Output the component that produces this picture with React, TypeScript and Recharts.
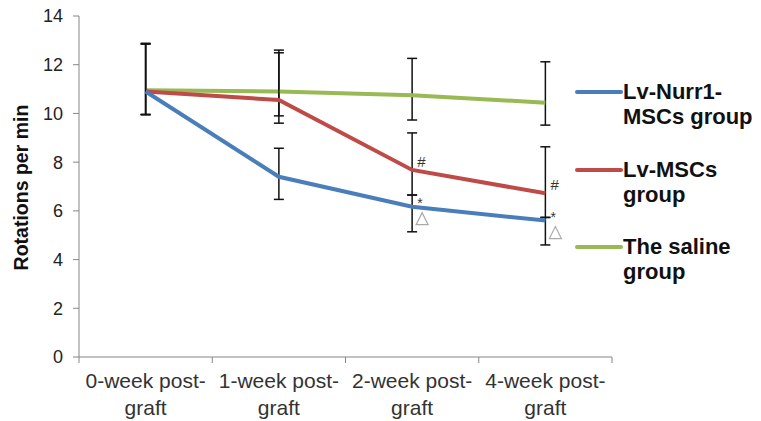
import { ErrorBar, Label, LabelList, Legend, Line, LineChart, XAxis, YAxis } from "recharts";

const categories = ["0-week post-graft", "1-week post-graft", "2-week post-graft", "4-week post-graft"];
const nurr1Values = [10.9, 7.4, 6.17, 5.6];
const nurr1Err: [number, number][] = [[0.95, 1.95], [0.93, 1.17], [1.03, 0.48], [1.0, 0.13]];
const msccValues = [10.9, 10.55, 7.68, 6.72];
const msccErr: [number, number][] = [[0.95, 1.95], [0.95, 2.05], [1.03, 1.52], [0.99, 1.91]];
const salineValues = [10.95, 10.9, 10.75, 10.44];
const salineErr: [number, number][] = [[0.99, 1.93], [1.0, 1.59], [1.02, 1.51], [0.92, 1.68]];
const msccMarks = ["", "", "#", "#"];
const nurr1Marks = ["", "", "*", "*"];
const yTicks = [0, 2, 4, 6, 8, 10, 12, 14];

const COLORS = {
  nurr1: "#4a7ebb",
  mscc: "#be4b48",
  saline: "#98b954",
};

const legendItems = [
  { lines: ["Lv-Nurr1-", "MSCs group"], color: COLORS.nurr1 },
  { lines: ["Lv-MSCs", "group"], color: COLORS.mscc },
  { lines: ["The saline", "group"], color: COLORS.saline },
];

const data = categories.map((c, i) => ({
  name: c,
  nurr1: nurr1Values[i],
  nurr1Err: nurr1Err[i],
  nurr1Mark: nurr1Marks[i],
  mscc: msccValues[i],
  msccErr: msccErr[i],
  msccMark: msccMarks[i],
  saline: salineValues[i],
  salineErr: salineErr[i],
}));

const FONT = "Arial, 'Liberation Sans', sans-serif";
const PLOT_LEFT = 79;
const PLOT_RIGHT = 612;
const BAND = (PLOT_RIGHT - PLOT_LEFT) / categories.length;

function XTick(props: any) {
  const { x, y, payload, index } = props;
  const label: string = payload.value;
  const cut = label.indexOf("post-") + 5;
  const isLast = index === categories.length - 1;
  return (
    <g>
      <line x1={x - BAND / 2} y1={y - 8} x2={x - BAND / 2} y2={y - 2} stroke="#868686" />
      {isLast && <line x1={x + BAND / 2} y1={y - 8} x2={x + BAND / 2} y2={y - 2} stroke="#868686" />}
      <text x={x} y={y + 23} textAnchor="middle" fontSize={21} fill="#333" fontFamily={FONT}>
        {label.slice(0, cut)}
      </text>
      <text x={x} y={y + 50} textAnchor="middle" fontSize={21} fill="#333" fontFamily={FONT}>
        {label.slice(cut)}
      </text>
    </g>
  );
}

function MarkLabel(props: any) {
  const { x, y, value } = props;
  if (!value) return null;
  if (value === "#") {
    return (
      <text x={x + 5} y={y - 3} fontSize={15} fill="#333" fontFamily={FONT}>
        #
      </text>
    );
  }
  return (
    <g>
      <text x={x + 5} y={y + 1} fontSize={14} fill="#333" fontFamily={FONT}>
        *
      </text>
      <polygon
        points={`${x + 4},${y + 18} ${x + 16},${y + 18} ${x + 10},${y + 6}`}
        fill="none"
        stroke="#aaa"
        strokeWidth={1.2}
      />
    </g>
  );
}

function LegendBox() {
  return (
    <div style={{ fontFamily: FONT, fontWeight: "bold", fontSize: 22, color: "#111" }}>
      {legendItems.map((it) => (
        <div key={it.lines[0]} style={{ display: "flex", alignItems: "flex-start", height: 77.5 }}>
          <svg width={48} height={20}>
            <line x1={2} y1={10} x2={46} y2={10} stroke={it.color} strokeWidth={4} strokeLinecap="round" />
          </svg>
          <div style={{ lineHeight: "25px", marginTop: -3 }}>
            {it.lines.map((l) => (
              <div key={l}>{l}</div>
            ))}
          </div>
        </div>
      ))}
    </div>
  );
}

function YLabel() {
  return (
    <text
      x={28}
      y={187.5}
      transform="rotate(-90 28 187.5)"
      textAnchor="middle"
      fontSize={19.5}
      fontWeight="bold"
      fill="#111"
      fontFamily={FONT}
    >
      Rotations per min
    </text>
  );
}

export default function App() {
  return (
    <div style={{ width: 761, height: 421, background: "#fff" }}>
      <style>{"body{margin:0}"}</style>
      <LineChart
        width={761}
        height={421}
        data={data}
        margin={{ top: 16, right: 761 - PLOT_RIGHT, bottom: 6, left: 9 }}
      >
        <XAxis
          dataKey="name"
          axisLine={{ stroke: "#868686" }}
          tickLine={false}
          tick={<XTick />}
          height={58}
          interval={0}
          padding={{ left: BAND / 2, right: BAND / 2 }}
        />
        <YAxis
          domain={[0, 14]}
          ticks={yTicks}
          width={70}
          axisLine={{ stroke: "#868686" }}
          tickLine={{ stroke: "#868686" }}
          tickSize={6}
          tickMargin={10}
          tick={{ fontSize: 18, fill: "#222", fontFamily: FONT }}
        >
          <Label content={<YLabel />} />
        </YAxis>
        <Legend
          layout="vertical"
          verticalAlign="middle"
          align="center"
          wrapperStyle={{ top: 82, left: 575, width: 190 }}
          content={<LegendBox />}
        />
        <Line
          dataKey="saline"
          stroke={COLORS.saline}
          strokeWidth={4}
          dot={false}
          isAnimationActive={false}
        >
          <ErrorBar dataKey="salineErr" width={5} stroke="#111" strokeWidth={1.5} direction="y" />
        </Line>
        <Line
          dataKey="mscc"
          stroke={COLORS.mscc}
          strokeWidth={4}
          dot={false}
          isAnimationActive={false}
        >
          <ErrorBar dataKey="msccErr" width={5} stroke="#111" strokeWidth={1.5} direction="y" />
          <LabelList dataKey="msccMark" content={<MarkLabel />} />
        </Line>
        <Line
          dataKey="nurr1"
          stroke={COLORS.nurr1}
          strokeWidth={4}
          dot={false}
          isAnimationActive={false}
        >
          <ErrorBar dataKey="nurr1Err" width={5} stroke="#111" strokeWidth={1.5} direction="y" />
          <LabelList dataKey="nurr1Mark" content={<MarkLabel />} />
        </Line>
      </LineChart>
    </div>
  );
}
